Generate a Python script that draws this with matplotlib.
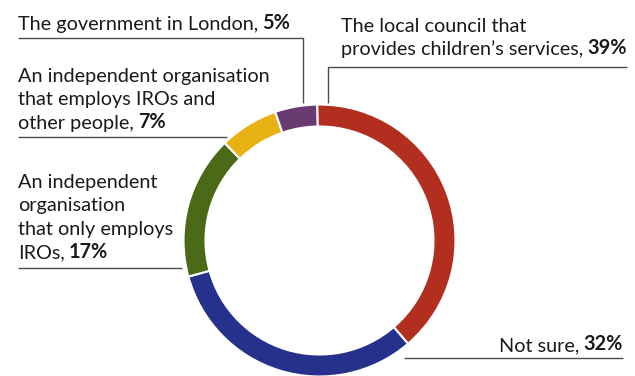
import matplotlib.pyplot as plt

# Who should employ IROs - share of answers
shares = [39, 32, 17, 7, 5]
pct_labels = ['39%', '32%', '17%', '7%', '5%']
colors = ['#b22e1f', '#25318a', '#4a6a18', '#e8b114', '#6a3b70']

TEXT = '#1a1a1a'
LINE = '#4d4d4d'
FONT = 'Lato'
SIZE = 14.3

W, H = 635, 376
fig = plt.figure(figsize=(W / 100, H / 100), dpi=100)
ax = fig.add_axes([0, 0, 1, 1])

ax.pie(shares, colors=colors, startangle=91, counterclock=False,
       center=(319.5, H - 240.5), radius=136,
       wedgeprops=dict(width=22, edgecolor='white', linewidth=1.5))

ax.set_xlim(0, W)
ax.set_ylim(0, H)
ax.set_aspect('equal')
ax.axis('off')


def label(lines, x, y, pct, step=23.5, ha='left'):
    # y is the first baseline in image pixels (top-down)
    for i, line in enumerate(lines):
        yy = H - (y + i * step)
        last = i == len(lines) - 1
        if ha == 'left':
            t = ax.text(x, yy, line, ha='left', va='baseline', color=TEXT,
                        family=FONT, fontsize=SIZE)
            if last:
                ax.annotate(pct, xy=(1, 0), xycoords=t, xytext=(3, 0),
                            textcoords='offset points', ha='left', va='bottom',
                            color=TEXT, family=FONT, fontsize=SIZE,
                            fontweight='bold')
        else:
            if last:
                b = ax.text(x, yy, pct, ha='right', va='baseline', color=TEXT,
                            family=FONT, fontsize=SIZE, fontweight='bold')
                ax.annotate(line, xy=(0, 0), xycoords=b, xytext=(-3, 0),
                            textcoords='offset points', ha='right',
                            va='bottom', color=TEXT, family=FONT,
                            fontsize=SIZE)
            else:
                ax.text(x, yy, line, ha='right', va='baseline', color=TEXT,
                        family=FONT, fontsize=SIZE)


def leader(xs, ys):
    ax.plot(xs, [H - v for v in ys], color=LINE, lw=1, solid_capstyle='butt')


label(['The government in London,'], 18, 30, pct_labels[4])
leader([18, 303, 303], [37.5, 37.5, 103])

label(['The local council that', 'provides children\u2019s services,'],
      341, 32, pct_labels[0])
leader([627, 328, 328], [67, 67, 103])

label(['An independent organisation', 'that employs IROs and',
       'other people,'], 18, 82, pct_labels[3])
leader([18, 227], [136.5, 136.5])

label(['An independent', 'organisation', 'that only employs', 'IROs,'],
      18, 188, pct_labels[2])
leader([18, 182], [268, 268])

label(['Not sure,'], 623, 350, pct_labels[1], ha='right')
leader([404, 623], [357.5, 357.5])

fig.savefig('out.png', dpi=100)
